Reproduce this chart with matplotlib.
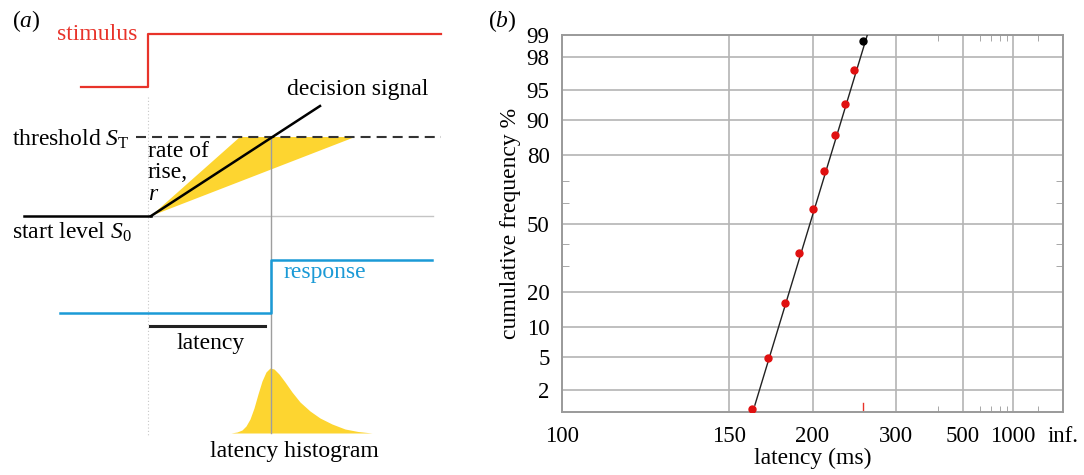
import matplotlib
matplotlib.use("Agg")
import matplotlib.pyplot as plt
from matplotlib.patches import Polygon
import numpy as np
from statistics import NormalDist

plt.rcParams["font.family"] = "Liberation Serif"
plt.rcParams["mathtext.fontset"] = "custom"
plt.rcParams["mathtext.rm"] = "Liberation Serif"
plt.rcParams["mathtext.it"] = "Liberation Serif:italic"

RED = "#e8332a"
BLUE = "#1b9ad6"
YELLOW = "#fdd530"
GRID = "#b4b4b4"
FS = 17

# ---- panel (b): reciprobit plot data ----
latency_ms = [161, 170, 180, 190, 200, 210, 220, 230, 240, 250]
cum_pct = [1.1, 4.9, 16.3, 35.8, 56.9, 74.1, 86.3, 93.0, 97.1, 98.8]
fit_latency = [162.6, 256.0]
fit_pct = [1.25, 99.0]

INF = 1e9
x_ticks = [100, 150, 200, 300, 500, 1000, INF]
x_ticklabels = ["100", "150", "200", "300", "500", "1000", "inf."]
x_minor = [400, 600, 700, 800, 900, 2000]
y_ticks = [2, 5, 10, 20, 50, 80, 90, 95, 98, 99]
y_minor = [30, 40, 60, 70]

# ---- panel (a): LATER schematic, in figure pixel units (y downwards) ----
stim_t = [81, 148, 148, 441]
stim_level = [87, 87, 34, 34]
resp_t = [60, 271, 271, 432]
resp_level = [313, 313, 260, 260]
start_t = [24, 151]
start_level = 216
threshold_level = 137
threshold_t = [136, 441]
signal_t = [151, 320]
signal_level = [216, 106]
fan_cross_t = [240, 355]          # fastest / slowest rise reaching threshold
latency_bar_t = [150, 265]
latency_bar_level = 326
hist_base = 433
hist_t = [231, 237, 242, 246, 250, 254, 258, 262, 266, 270, 274, 279, 285, 292,
          300, 310, 320, 332, 345, 358, 372]
hist_level = [433, 432, 430, 426, 419, 408, 394, 381, 372, 368, 369, 374, 382, 392,
              402, 411, 418, 424, 429, 431.5, 433]

_nd = NormalDist()


def probit(p):
    p = np.clip(np.asarray(p, float) / 100.0, 1e-9, 1 - 1e-9)
    return np.vectorize(_nd.inv_cdf, otypes=[float])(p)


def inv_probit(z):
    return np.vectorize(_nd.cdf, otypes=[float])(np.asarray(z, float)) * 100.0


def recip(t):
    with np.errstate(divide="ignore"):
        return -1.0 / np.asarray(t, float)


fig = plt.figure(figsize=(10.84, 4.75), dpi=100)

# ---------------- panel (a) ----------------
ax = fig.add_axes([0, 0, 1, 1])
ax.set_xlim(0, 1084)
ax.set_ylim(475, 0)
ax.axis("off")

ax.plot([stim_t[1], stim_t[1]], [97, hist_base + 2], color="#c8c8c8", lw=0.8, ls=(0, (1, 2)))
ax.plot(start_t[1:] + [433], [start_level, start_level], color="#c4c4c4", lw=1.0)
ax.add_patch(Polygon([(signal_t[0], start_level), (fan_cross_t[0], threshold_level),
                      (fan_cross_t[1], threshold_level)], closed=True, color=YELLOW, lw=0))
ax.fill_between(hist_t, hist_level, hist_base, color=YELLOW, lw=0)
ax.plot([resp_t[1], resp_t[1]], [threshold_level, hist_base], color="#9e9e9e", lw=1.0)

ax.plot(stim_t, stim_level, color=RED, lw=1.6)
ax.plot(resp_t, resp_level, color=BLUE, lw=1.8)
ax.plot(threshold_t, [threshold_level] * 2, color="#333333", lw=1.5, dashes=(4.8, 2.9))
ax.plot(start_t, [start_level] * 2, color="black", lw=1.8)
ax.plot(signal_t, signal_level, color="black", lw=1.8)
ax.plot(latency_bar_t, [latency_bar_level] * 2, color="#222222", lw=2.2)

ax.text(26, 21, "$(\\mathit{a})$", ha="center", va="center", fontsize=FS)
ax.text(137, 35, "stimulus", color=RED, ha="right", va="center", fontsize=FS)
ax.text(287, 95, "decision signal", ha="left", va="baseline", fontsize=FS)
ax.text(12, 146, "threshold $S_\\mathrm{T}$", ha="left", va="baseline", fontsize=FS)
ax.text(148, 157, "rate of", ha="left", va="baseline", fontsize=FS)
ax.text(148, 178, "rise,", ha="left", va="baseline", fontsize=FS)
ax.text(148, 200, "$r$", ha="left", va="baseline", fontsize=FS)
ax.text(12, 239, "start level $S_0$", ha="left", va="baseline", fontsize=FS)
ax.text(283, 278, "response", color=BLUE, ha="left", va="baseline", fontsize=FS)
ax.text(211, 349, "latency", ha="center", va="baseline", fontsize=FS)
ax.text(294, 457, "latency histogram", ha="center", va="baseline", fontsize=FS)
ax.text(502, 21, "$(\\mathit{b})$", ha="center", va="center", fontsize=FS)

# ---------------- panel (b) ----------------
bx = fig.add_axes([562 / 1084, 1 - 412 / 475, 501 / 1084, 377 / 475])
bx.set_xscale("function", functions=(recip, lambda u: -1.0 / np.asarray(u, float)))
bx.set_yscale("function", functions=(probit, inv_probit))

bx.plot(fit_latency, fit_pct, color="#222222", lw=1.0, zorder=3)
bx.plot(latency_ms[:-1], cum_pct[:-1], "o", color="#e01010", ms=5, zorder=4)
bx.plot(latency_ms[-1:], cum_pct[-1:], "o", color="black", ms=5, zorder=4)
bx.axvline(latency_ms[-1], ymin=0, ymax=0.025, color=RED, lw=1.0)

bx.set_xlim(100, INF)
bx.set_ylim(1, 99)
bx.set_xticks(x_ticks)
bx.set_xticklabels(x_ticklabels)
bx.set_xticks(x_minor, minor=True)
bx.set_yticks(y_ticks)
bx.set_yticklabels([str(v) for v in y_ticks])
bx.set_yticks(y_minor, minor=True)
bx.set_xticklabels([], minor=True)
bx.set_yticklabels([], minor=True)

bx.grid(which="major", color=GRID, lw=1.2)
bx.set_axisbelow(True)
bx.tick_params(which="major", length=0, labelsize=16.5, pad=9)
bx.tick_params(axis="x", which="major", pad=10)
bx.tick_params(axis="y", which="minor", direction="in", length=5, left=True, right=True, color="#999999")
bx.tick_params(axis="x", which="minor", direction="in", length=4, top=True, bottom=True, color="#999999")
for s in bx.spines.values():
    s.set_color("#9a9a9a")
    s.set_linewidth(1.4)

bx.set_xlabel("latency (ms)", fontsize=FS, labelpad=1)
bx.set_ylabel("cumulative frequency %", fontsize=FS, labelpad=4)

fig.savefig("out.png", dpi=100)
